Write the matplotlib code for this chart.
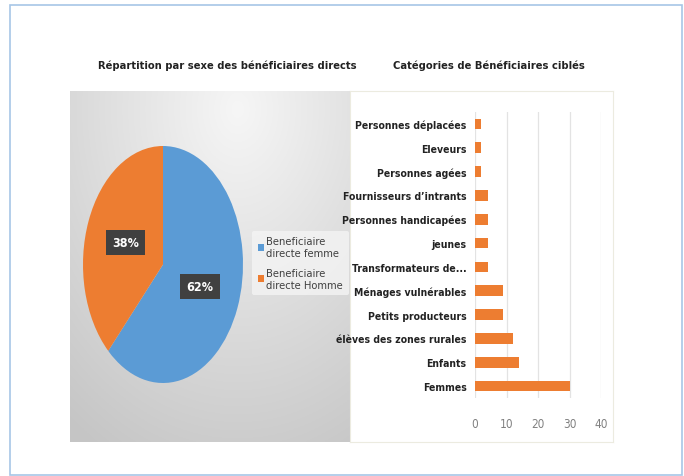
import matplotlib
matplotlib.use("Agg")
import matplotlib.pyplot as plt
import numpy as np
from matplotlib.patches import Rectangle

# ── Données ───────────────────────────────────────────────────────────────────
sexe_labels = ["Beneficiaire\ndirecte femme", "Beneficiaire\ndirecte Homme"]
sexe_parts = [62, 38]

categories = [
    "Femmes",
    "Enfants",
    "élèves des zones rurales",
    "Petits producteurs",
    "Ménages vulnérables",
    "Transformateurs de...",
    "jeunes",
    "Personnes handicapées",
    "Fournisseurs d’intrants",
    "Personnes agées",
    "Eleveurs",
    "Personnes déplacées",
]
effectifs = [30, 14, 12, 9, 9, 4, 4, 4, 4, 2, 2, 2]
ticks_x = [0, 10, 20, 30, 40]

BLEU = "#5b9bd5"
ORANGE = "#ed7d31"
plt.rcParams["font.family"] = ["DejaVu Sans"]
plt.rcParams["font.stretch"] = "condensed"

W, H = 684, 477


def fr(x0, y0, x1, y1):
    """pixels (haut-gauche) -> fraction de figure [l, b, w, h]"""
    return [x0 / W, 1 - y1 / H, (x1 - x0) / W, (y1 - y0) / H]


fig = plt.figure(figsize=(W / 100, H / 100), dpi=100)
fig.patch.set_facecolor("white")

# cadre extérieur
fig.patches.append(Rectangle((10 / W, 1 - 476 / H), 672 / W, 470 / H,
                             transform=fig.transFigure, fill=False,
                             edgecolor="#a7c6e6", linewidth=1.2))

# ── Fond dégradé du camembert ──────────────────────────────────────────────────
ax_bg = fig.add_axes(fr(70, 92, 350, 443))
yy, xx = np.mgrid[0:1:200j, 0:1:200j]
dist = np.sqrt((xx - 0.6) ** 2 + ((yy - 0.05) * 0.9) ** 2)
fond = 0.965 - 0.19 * np.clip(dist, 0, 1)
ax_bg.imshow(np.dstack([fond] * 3), aspect="auto", extent=(0, 1, 1, 0))
ax_bg.set_axis_off()

# ── Panneau du graphique à barres ─────────────────────────────────────────────
ax_wb = fig.add_axes(fr(350, 92, 613, 443))
ax_wb.set_xticks([])
ax_wb.set_yticks([])
for s in ax_wb.spines.values():
    s.set_color("#ecebe0")

# ── Camembert ─────────────────────────────────────────────────────────────────
ax_pie = fig.add_axes(fr(83, 147, 243, 384))
wedges, _, autotexts = ax_pie.pie(
    sexe_parts, colors=[BLEU, ORANGE], startangle=90, counterclock=False,
    autopct="%d%%", pctdistance=0.5,
    wedgeprops=dict(linewidth=0),
    textprops=dict(color="white", fontweight="bold", fontsize=9),
)
for t in autotexts:
    t.set_bbox(dict(facecolor="#404040", edgecolor="none", boxstyle="square,pad=0.5"))
ax_pie.set_aspect("auto")
ax_pie.set_xlim(-1, 1)
ax_pie.set_ylim(-1, 1)

leg = fig.legend(wedges, sexe_labels, loc="center left",
                 bbox_to_anchor=(252 / W, 1 - 264 / H),
                 frameon=True, fontsize=8, handlelength=0.6, handleheight=0.6,
                 handletextpad=0.2, labelspacing=0.9, borderpad=0.5,
                 borderaxespad=0)
leg.get_frame().set_facecolor("#f4f4f4")
leg.get_frame().set_edgecolor("none")
leg.get_frame().set_alpha(0.8)
for t in leg.get_texts():
    t.set_color("#404040")

# ── Barres horizontales ──────────────────────────────────────────────────────
ax_bar = fig.add_axes(fr(475, 113, 601, 399))
pos = np.arange(len(categories))
ax_bar.barh(pos, effectifs, height=0.45, color=ORANGE)
ax_bar.set_yticks(pos)
ax_bar.set_yticklabels(categories, fontsize=7.5, fontweight="bold", color="#222222")
ax_bar.set_ylim(-0.5, len(categories) - 0.5)
ax_bar.set_xlim(0, 40)
ax_bar.set_xticks(ticks_x)
ax_bar.tick_params(axis="x", colors="#808080", labelsize=8.5, length=0, pad=14)
ax_bar.tick_params(axis="y", length=0, pad=6)
ax_bar.grid(axis="x", color="#e3e3e3", linewidth=0.9)
ax_bar.set_axisbelow(True)
ax_bar.set_facecolor("none")
for s in ax_bar.spines.values():
    s.set_visible(False)

# ── Titres ────────────────────────────────────────────────────────────────────
fig.text(227 / W, 1 - 66 / H, "Répartition par sexe des bénéficiaires directs",
         ha="center", va="center", fontsize=8, fontweight="bold", color="#222222")
fig.text(489 / W, 1 - 66 / H, "Catégories de Bénéficiaires ciblés",
         ha="center", va="center", fontsize=8, fontweight="bold", color="#222222")

fig.savefig("out.png", dpi=100)
